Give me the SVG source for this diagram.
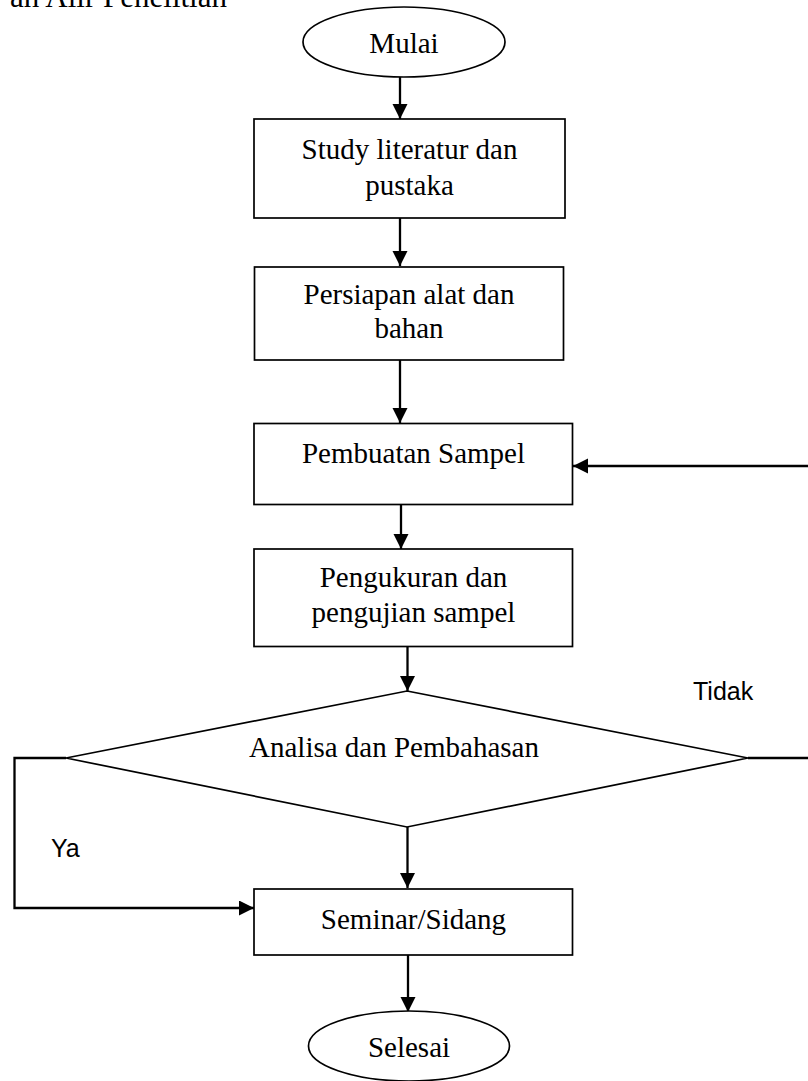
<svg xmlns="http://www.w3.org/2000/svg" width="808" height="1081" viewBox="0 0 808 1081">
<style>
.box{fill:#fff;stroke:#000;stroke-width:1.7}
.t{font-family:"Liberation Serif","Times New Roman",serif;font-size:29px;fill:#000;text-anchor:middle}
.s{font-family:"Liberation Sans",Arial,sans-serif;font-size:25px;fill:#000}
.c{fill:none;stroke:#000;stroke-width:2.3}
</style>
<defs>
<marker id="ah" markerUnits="userSpaceOnUse" markerWidth="16" markerHeight="16" refX="15" refY="7.5" orient="auto">
<path d="M0,0 L15,7.5 L0,15 z" fill="#000"/>
</marker>
</defs>
<rect width="808" height="1081" fill="#fff"/>
<text x="227" y="7" font-family="Liberation Serif, Times New Roman, serif" font-size="31" text-anchor="end">an Alir Penelitian</text>

<g id="connectors">
<line class="c" x1="400" y1="77" x2="400" y2="119" marker-end="url(#ah)"/>
<line class="c" x1="400" y1="218" x2="400" y2="266" marker-end="url(#ah)"/>
<line class="c" x1="400" y1="360" x2="400" y2="423" marker-end="url(#ah)"/>
<line class="c" x1="401" y1="504" x2="401" y2="549" marker-end="url(#ah)"/>
<line class="c" x1="407.5" y1="647" x2="407.5" y2="691" marker-end="url(#ah)"/>
<line class="c" x1="407.5" y1="827" x2="407.5" y2="888" marker-end="url(#ah)"/>
<line class="c" x1="408" y1="955" x2="408" y2="1012" marker-end="url(#ah)"/>
<path class="c" d="M66,758 H14.5 V908 H254" marker-end="url(#ah)"/>
<path class="c" d="M748,758 H814 V466 H573" marker-end="url(#ah)"/>
<text class="s" x="51" y="857">Ya</text>
<text class="s" x="693" y="700">Tidak</text>
</g>

<g id="mulai">
<ellipse class="box" cx="404" cy="42" rx="101" ry="35" stroke-width="1.5"/>
<text class="t" x="404" y="53">Mulai</text>
</g>

<g id="study">
<rect class="box" x="254" y="119" width="311" height="99"/>
<text class="t" x="409.5" y="159">Study literatur dan</text>
<text class="t" x="409.5" y="195">pustaka</text>
</g>

<g id="persiapan">
<rect class="box" x="254.5" y="267" width="309" height="93"/>
<text class="t" x="409" y="304">Persiapan alat dan</text>
<text class="t" x="409" y="338">bahan</text>
</g>

<g id="pembuatan">
<rect class="box" x="254" y="423.5" width="318.5" height="81"/>
<text class="t" x="413.5" y="463">Pembuatan Sampel</text>
</g>

<g id="pengukuran">
<rect class="box" x="254" y="549" width="318.5" height="97.5"/>
<text class="t" x="413.5" y="587">Pengukuran dan</text>
<text class="t" x="413.5" y="622">pengujian sampel</text>
</g>

<g id="analisa">
<polygon class="box" points="407,691 748,758 407,827 66,758" stroke-width="1.6"/>
<text class="t" x="394" y="757">Analisa dan Pembahasan</text>
</g>

<g id="seminar">
<rect class="box" x="254" y="889" width="318.5" height="66"/>
<text class="t" x="413.5" y="929">Seminar/Sidang</text>
</g>

<g id="selesai">
<ellipse class="box" cx="409" cy="1046" rx="100.5" ry="35" stroke-width="1.5"/>
<text class="t" x="409" y="1057">Selesai</text>
</g>
</svg>
